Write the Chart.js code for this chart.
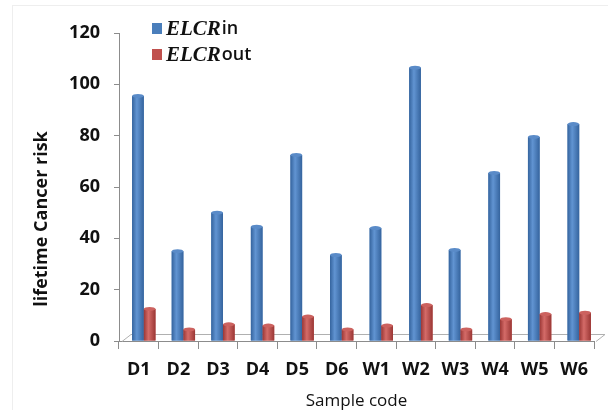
<!DOCTYPE html>
<html>
<head>
<meta charset="utf-8">
<script src="https://cdn.jsdelivr.net/npm/chart.js@4/dist/chart.umd.min.js"></script>
<style>
  html, body { margin: 0; padding: 0; background: #ffffff; }
  #wrap { width: 608px; height: 410px; }
</style>
</head>
<body>
<div id="wrap"><canvas id="c" width="608" height="410"></canvas></div>
<script>
// Sample codes and excess lifetime cancer risk, indoor vs outdoor
const categories = ['D1', 'D2', 'D3', 'D4', 'D5', 'D6', 'W1', 'W2', 'W3', 'W4', 'W5', 'W6'];
const elcrIn  = [95.5, 35, 50, 44.5, 72.5, 33.5, 44, 106.5, 35.5, 65.5, 79.5, 84.5];
const elcrOut = [12.5, 4.5, 6.5, 6, 9.5, 4.5, 6, 14, 4.5, 8.5, 10.5, 11];
const legendStem = 'ELCR';
const legendSuffixes = ['in', 'out'];
const yTickValues = [0, 20, 40, 60, 80, 100, 120];
const xTitle = 'Sample code';
const yTitle = 'lifetime Cancer risk';

const AXIS_GREY = '#8c8c8c';
const TEXT = '#111111';
const GROUP_SHIFT = 5;   // bars sit a little right of the tick centre (depth look)

const shades = [
  { base: '#4a7ebb', edge: '#35649e', light: '#6194d2', cap: '#5a8bc8' },
  { base: '#c0504d', edge: '#9b3735', light: '#d46b68', cap: '#cc625f' }
];

// faint frame and the 3-D floor outline
const backdrop = {
  id: 'backdrop',
  beforeDraw(chart) {
    const ctx = chart.ctx;
    ctx.save();
    ctx.strokeStyle = '#eeeeee';
    ctx.lineWidth = 1;
    ctx.strokeRect(12.5, 5.5, 600, 410);
    ctx.restore();
  },
  beforeDatasetsDraw(chart) {
    const ctx = chart.ctx;
    const a = chart.chartArea;
    const depthX = 9, depthY = 7;
    ctx.save();
    ctx.strokeStyle = '#b0b0b0';
    ctx.lineWidth = 1;
    ctx.beginPath();
    ctx.moveTo(a.left + 3, a.bottom + 0.5);
    ctx.lineTo(a.left + 3 + depthX, a.bottom - depthY + 0.5);
    ctx.lineTo(a.right + 2 + depthX, a.bottom - depthY + 0.5);
    ctx.lineTo(a.right + 2, a.bottom + 0.5);
    ctx.stroke();
    ctx.restore();
  }
};

// rounded cylinder shading on top of the library's bars
const cylinderLook = {
  id: 'cylinderLook',
  beforeDatasetsDraw(chart) {
    chart.ctx.save();
    chart.ctx.translate(GROUP_SHIFT, 0);
  },
  afterDatasetsDraw(chart) {
    const ctx = chart.ctx;
    chart.data.datasets.forEach((ds, i) => {
      const meta = chart.getDatasetMeta(i);
      const s = shades[i];
      meta.data.forEach(bar => {
        const { x, y, base, width } = bar.getProps(['x', 'y', 'base', 'width'], true);
        const l = x - width / 2;
        const g = ctx.createLinearGradient(l, 0, l + width, 0);
        g.addColorStop(0, s.edge);
        g.addColorStop(0.4, s.light);
        g.addColorStop(1, s.edge);
        ctx.fillStyle = g;
        ctx.fillRect(l, y, width, base - y);
        ctx.beginPath();
        ctx.ellipse(x, y, width / 2, 2, 0, 0, Math.PI * 2);
        ctx.fillStyle = s.cap;
        ctx.fill();
      });
    });
    ctx.restore();
  }
};

// value-axis title and the two-font legend
const annotations = {
  id: 'annotations',
  afterDraw(chart) {
    const ctx = chart.ctx;
    const a = chart.chartArea;
    ctx.save();
    ctx.fillStyle = TEXT;
    ctx.font = 'bold 18px "Open Sans"';
    ctx.textAlign = 'center';
    ctx.textBaseline = 'middle';
    ctx.translate(42, a.bottom - 122);
    ctx.rotate(-Math.PI / 2);
    ctx.fillText(yTitle, 0, 0);
    ctx.restore();

    ctx.save();
    chart.data.datasets.forEach((ds, i) => {
      const rowY = 29 + i * 26;
      ctx.fillStyle = shades[i].base;
      ctx.fillRect(152, rowY - 6, 10, 11);
      ctx.fillStyle = TEXT;
      ctx.textBaseline = 'middle';
      ctx.textAlign = 'left';
      ctx.font = 'italic bold 21px "Liberation Serif"';
      ctx.fillText(legendStem, 166, rowY + 1);
      const w = ctx.measureText(legendStem).width;
      ctx.font = '600 18px "Open Sans"';
      ctx.fillText(legendSuffixes[i], 166 + w + 1, rowY);
    });
    ctx.restore();
  }
};

new Chart(document.getElementById('c'), {
  type: 'bar',
  data: {
    labels: categories,
    datasets: [
      { label: legendStem + legendSuffixes[0], data: elcrIn, backgroundColor: shades[0].base, borderWidth: 0 },
      { label: legendStem + legendSuffixes[1], data: elcrOut, backgroundColor: shades[1].base, borderWidth: 0 }
    ]
  },
  options: {
    responsive: false,
    animation: false,
    devicePixelRatio: 1,
    layout: { padding: { top: 33, right: 14, left: 0, bottom: 0 } },
    datasets: { bar: { categoryPercentage: 0.59, barPercentage: 1 } },
    plugins: { legend: { display: false }, tooltip: { enabled: false } },
    scales: {
      x: {
        grid: { display: true, drawOnChartArea: false, drawTicks: true, tickLength: 8, color: AXIS_GREY, offset: true },
        border: { display: true, color: AXIS_GREY },
        ticks: { color: TEXT, font: { family: '"Open Sans"', size: 18, weight: 'bold' }, padding: 10, maxRotation: 0 },
        title: { display: true, text: xTitle, color: TEXT, font: { family: '"Open Sans"', size: 17, lineHeight: 1 }, padding: 0 },
        afterFit(s) { s.height = 69; }
      },
      y: {
        min: 0,
        max: 120,
        afterBuildTicks(s) { s.ticks = yTickValues.map(v => ({ value: v })); },
        grid: { display: true, drawOnChartArea: false, drawTicks: true, tickLength: 5, color: AXIS_GREY },
        border: { display: true, color: AXIS_GREY },
        ticks: { color: TEXT, font: { family: '"Open Sans"', size: 18, weight: 'bold' }, padding: 14 },
        afterFit(s) { s.width = 119; }
      }
    }
  },
  plugins: [backdrop, cylinderLook, annotations]
});
</script>
</body>
</html>
